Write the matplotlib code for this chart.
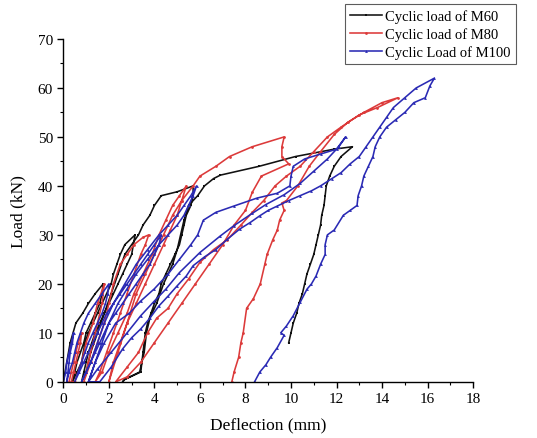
import matplotlib
matplotlib.use("Agg")
import matplotlib.pyplot as plt
from matplotlib.ticker import MultipleLocator

plt.rcParams['font.family'] = ['Liberation Serif', 'DejaVu Serif']

# ---- data (deflection mm, load kN) ----
m60_x = [0, 0.15, 0.3, 0.55, 0.85, 1.1, 1.4, 1.75,
         1.7, 1.6, 1.4, 1.2, 1.0, 0.9, 0.75, 0.6, 0.5, 0.4,
         0.6, 0.8, 0.95, 1.1, 1.3, 1.5, 1.7, 1.9, 2.1, 2.2, 2.35, 2.5, 2.7, 3.15,
         3.0, 2.8, 2.6, 2.4, 2.2, 2.0, 1.8, 1.6, 1.4, 1.25, 1.1, 1.0, 0.9, 0.8,
         1.0, 1.2, 1.5, 1.8, 2.1, 2.4, 2.7, 3.3, 3.5, 3.8, 4.0, 4.3, 5.0, 5.7,
         5.7, 5.6, 5.4, 5.3, 5.2, 5.1, 4.9, 4.7, 4.5, 4.3, 4.2, 4.0, 3.85, 3.7, 3.6, 3.5, 3.4, 2.7, 2.6,
         2.7, 3.35, 3.55, 3.65, 3.8, 4.1, 4.4, 4.6, 4.8, 5.0, 5.15, 5.3, 5.5, 5.9, 6.2, 6.6, 6.9, 8.6, 10.2, 11.9, 12.7,
         12.2, 11.9, 11.7, 11.55, 11.5, 11.45, 11.35, 11.3, 11.2, 11.1, 11.0, 10.85, 10.7, 10.6, 10.5, 10.35, 10.25, 10.1, 10.0, 9.9]
m60_y = [0, 4, 8, 12, 14, 16, 18, 20,
         18, 16, 14, 12, 10, 8, 6, 4, 2, 0,
         2, 4, 8, 10, 12, 14, 16, 18, 20, 22, 24, 26, 28, 30,
         26, 24, 22, 20, 18, 16, 14, 12, 10, 8, 6, 4, 2, 0,
         2, 6, 10, 14, 18, 22, 26, 30, 32, 34, 36, 38, 38.8, 40,
         38, 36, 34, 32, 30, 28, 26, 24, 22, 20, 18, 16, 14, 12, 10, 6, 2, 0.5, 0,
         0.5, 2, 6, 10, 13, 16, 20, 22, 24, 27, 30, 33, 36, 38, 40, 41.5, 42.2, 44, 46, 47.5, 48,
         46, 44, 42, 40, 38, 36, 34, 32, 30, 28, 26, 24, 22, 20, 18, 16, 14, 12, 10, 8]

m80_x = [0.25, 0.35, 0.45, 0.55, 0.65, 0.8,
         0.75, 0.65, 0.55, 0.45, 0.35,
         0.5, 0.8, 1.0, 1.3, 1.5, 1.8,
         1.7, 1.5, 1.3, 1.1, 0.9,
         1.2, 1.5, 1.8, 2.0, 2.2, 2.5, 2.8, 3.1, 3.5, 3.75,
         3.6, 3.4, 3.1, 2.8, 2.5, 2.2, 1.9, 1.6, 1.4,
         1.7, 2.0, 2.4, 2.8, 3.1, 3.5, 3.9, 4.2, 4.5, 4.8, 5.1, 5.4,
         5.2, 5.0, 4.7, 4.4, 4.0, 3.6, 3.2, 2.8, 2.5, 2.2, 2.0,
         2.4, 2.8, 3.2, 3.6, 4.0, 4.4, 4.8, 5.2, 5.7, 6.0, 6.7, 7.3, 8.3, 9.7,
         9.6, 9.6, 9.9, 8.7, 8.3, 8.0, 7.5, 7.0, 6.4, 5.8, 5.2, 4.6, 4.0, 3.4, 2.8, 2.3,
         2.8, 3.3, 3.7, 4.1, 4.6, 5.0, 5.5, 6.0, 6.6, 7.2, 7.8, 8.3, 8.8, 9.3, 9.8, 10.4, 11.0, 11.6, 12.2, 13.0, 13.8, 14.7,
         14.0, 13.2, 12.5, 11.9, 11.3, 10.8, 10.3, 9.8, 9.6, 9.7, 9.5, 9.4, 9.2, 8.95, 8.85, 8.65, 8.35, 8.05, 7.9, 7.8, 7.7, 7.5, 7.4]
m80_y = [0, 2, 4, 6, 8, 10,
         8, 6, 4, 2, 0,
         0, 4, 8, 12, 16, 20,
         16, 12, 8, 4, 0,
         4, 8, 12, 16, 20, 24, 26, 28, 29.5, 30,
         28, 26, 22, 18, 14, 10, 6, 2, 0,
         2, 6, 10, 14, 18, 22, 26, 30, 33, 36, 38, 40,
         37, 34, 31, 28, 24, 20, 16, 12, 8, 4, 0,
         6, 12, 18, 22, 26, 30, 34, 37, 40, 42, 44, 46, 48, 50,
         48, 46, 44.5, 42, 38.7, 35, 32, 28, 24, 20, 16, 12, 8, 4, 1, 0,
         3, 6, 10, 13, 15, 18, 21, 24.4, 27, 29, 32, 34.6, 37, 40, 42, 44, 47, 50, 52, 54.5, 56, 58,
         57, 55, 53, 50.5, 47, 44, 40, 37, 36.5, 35, 33, 31, 29, 26, 24, 20, 17, 15, 10, 8, 5, 2, 0]

m100_x = [0, 0.1, 0.15, 0.25, 0.35, 0.45,
          0.4, 0.3, 0.25, 0.2, 0.15,
          0.25, 0.4, 0.5, 0.6, 0.75, 0.9, 1.1, 1.4, 1.7, 2.0,
          1.95, 1.85, 1.7, 1.5, 1.3, 1.1, 0.95, 0.8, 0.65, 0.5,
          0.7, 0.9, 1.1, 1.3, 1.5, 1.7, 1.9, 2.2, 2.5, 2.8, 3.1, 3.4, 3.7, 4.0, 4.3,
          4.2, 4.0, 3.8, 3.5, 3.2, 2.9, 2.6, 2.3, 2.0, 1.8, 1.6, 1.4, 1.2, 1.0, 0.8,
          1.0, 1.2, 1.5, 1.8, 2.2, 2.7, 3.2, 3.7, 4.2, 4.6, 5.0, 5.3, 5.6, 5.85,
          5.7, 5.5, 5.3, 5.0, 4.6, 4.2, 3.7, 3.2, 2.8, 2.4, 2.0, 1.7, 1.4, 1.1,
          1.4, 1.8, 2.3, 2.9, 3.4, 4.0, 4.6, 5.1, 5.6, 5.9, 6.15, 6.7, 7.5, 8.5, 9.4, 9.95, 10.0, 10.1, 10.6, 11.3, 12.0, 12.4,
          12.1, 11.6, 11.0, 10.4, 9.7, 8.9, 8.3, 7.5, 6.9, 6.0, 5.1, 4.5, 4.0, 3.4, 2.8, 2.1, 1.5, 1.1,
          1.6, 2.1, 2.6, 3.0, 3.4, 3.8, 4.2, 4.6, 5.0, 5.4, 5.7, 6.2, 6.7, 7.2, 7.75, 8.2, 8.63, 9.0, 9.4, 9.9, 10.4, 10.9, 11.3, 11.8, 12.2, 12.6, 13.0, 13.3, 13.6, 13.9, 14.2, 14.5, 15.0, 15.5, 16.3,
          16.1, 15.9, 15.4, 15.0, 14.6, 14.2, 13.9, 13.7, 13.6, 13.4, 13.2, 13.1, 12.95, 12.9, 12.6, 12.3, 11.9, 11.6, 11.5, 11.5, 11.3, 11.1, 10.9, 10.7, 10.4, 10.1, 9.8, 9.55, 9.7, 9.4, 9.1, 8.9, 8.63, 8.4]
m100_y = [0, 2, 4, 6, 8, 10,
          8, 6, 4, 2, 0,
          2, 4, 6, 8, 10, 12, 14, 16, 18, 20,
          18, 16, 14, 12, 10, 8, 6, 4, 2, 0,
          2, 4, 6, 8, 10, 12, 14, 16, 18, 20, 22, 24, 26, 28, 30,
          28, 26, 24, 22, 20, 18, 16, 14, 12, 10, 8, 6, 4, 2, 0,
          2, 4, 8, 12, 16, 20, 24, 27, 30, 32, 34, 36, 38, 40,
          38, 36, 34, 32, 30, 28, 25, 22, 19, 16, 12, 8, 4, 0,
          4, 8, 12, 14, 16.5, 19, 22, 25, 28, 30, 33, 34.6, 35.9, 37.5, 38.5, 40, 42, 44, 45.5, 46.5, 47.5, 50,
          48, 45.5, 43, 40.5, 38.2, 36.2, 34.4, 31.9, 29.8, 26.4, 22.3, 18.9, 16.5, 13.5, 10, 6, 2.6, 0,
          0, 3, 6.7, 9, 10.8, 13, 15.5, 17.5, 19.6, 21.6, 23.7, 25.5, 27, 29.1, 31.2, 32.5, 33.9, 35, 35.9, 37, 38, 39, 40, 41.5, 42.7, 44.5, 46, 48, 50, 52, 54, 56, 58, 60, 62,
          60.4, 58, 57, 55, 53.5, 52, 50, 48, 46, 44, 42, 40, 38, 36, 35, 34, 31, 30, 28, 26, 24, 21.6, 20, 18.9, 16.2, 13.5, 11.4, 10, 9.5, 7, 5, 3.5, 2, 0]

series = [
    ("Cyclic load of M60", m60_x, m60_y, "#111111", "s"),
    ("Cyclic load of M80", m80_x, m80_y, "#dc3a3a", "o"),
    ("Cyclic Load of M100", m100_x, m100_y, "#2a2ab4", "^"),
]

fig = plt.figure(figsize=(5.37, 4.39), dpi=100)
ax = fig.add_axes([0.118, 0.128, 0.763, 0.781])

handles = []
for label, xs, ys, color, mk in series:
    h, = ax.plot(xs, ys, color=color, lw=1.15, marker=mk, markersize=2.0,
                 markerfacecolor=color, markeredgewidth=0, label=label)
    handles.append(h)

ax.set_xlim(0, 18)
ax.set_ylim(0, 70)
ax.xaxis.set_major_locator(MultipleLocator(2))
ax.xaxis.set_minor_locator(MultipleLocator(1))
ax.yaxis.set_major_locator(MultipleLocator(10))
ax.yaxis.set_minor_locator(MultipleLocator(5))
for s in ("top", "right"):
    ax.spines[s].set_visible(False)
for s in ("left", "bottom"):
    ax.spines[s].set_linewidth(1.0)
ax.tick_params(which="major", direction="out", length=4, width=1, labelsize=11)
ax.tick_params(which="minor", direction="out", length=2.5, width=0.8)

ax.set_xlabel("Deflection (mm)", fontsize=12.5, labelpad=8)
ax.set_ylabel("Load (kN)", fontsize=12.5, labelpad=8)

leg = fig.legend(handles=handles, loc="upper right",
                 bbox_to_anchor=(0.961, 0.989), fontsize=10.5,
                 frameon=True, fancybox=False, borderpad=0.35,
                 handlelength=2.2, handletextpad=0.25, labelspacing=0.3,
                 borderaxespad=0)
leg.get_frame().set_edgecolor("#333333")
leg.get_frame().set_linewidth(0.8)

fig.savefig("out.png", dpi=100)
